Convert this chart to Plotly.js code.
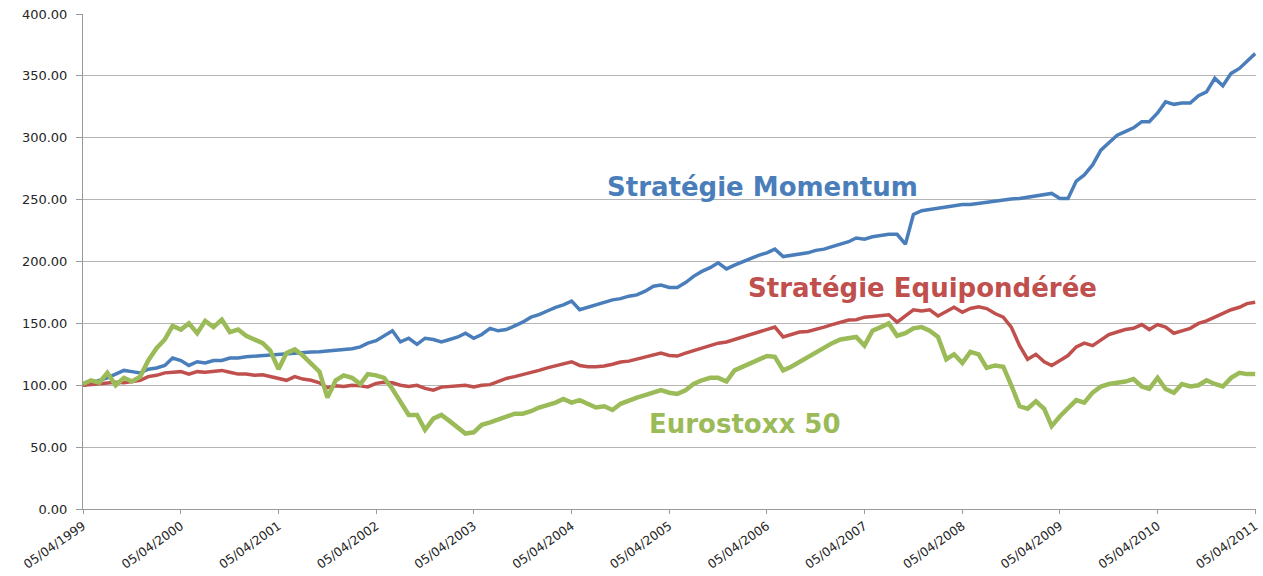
<!DOCTYPE html>
<html>
<head>
<meta charset="utf-8">
<script src="https://cdn.plot.ly/plotly-3.0.1.min.js"></script>
<style>html,body{margin:0;padding:0;background:#fff;}#chart{width:1263px;height:576px;}</style>
</head>
<body>
<div id="chart"></div>
<script>
// Monthly observation dates, 05/04/1999 -> 05/04/2011
const startYear = 1999, startMonth = 4, nMonths = 145;
const dates = [];
for (let i = 0; i < nMonths; i++) {
  const mm = startMonth - 1 + i;
  const y = startYear + Math.floor(mm / 12);
  const m = (mm % 12) + 1;
  dates.push(y + '-' + String(m).padStart(2, '0') + '-05');
}

const momentum = [
  100,102,104,106,109,112,111,110,113,114,116,122,
  120,116,119,118,120,120,122,122,123,123.5,124.4,124.5,
  125,125.5,126,126.5,126.8,127,127.5,128,128.5,129.5,131,134,
  136,140,144,135,138,133,138,137,135,137,139,142,
  138,141,146,144,145,148,151,155,157,160,163,165,
  168,161,163,165.6,167,169,170,172,173,176,180,181,
  179,179,183,188,192,195,199,194,197,200,203,205,
  207,210,204,205,206,207,209,210,212,214,216,219,
  218,220,221,222,222,214,238,241,242,243,244,245.5,
  246,246,247,248,249,250,250.5,251,252,253,254,255,
  251,251,265,270,278,290,296,302,305,308,313,313,
  320,329,327,328,328,334,337,348,342,352,356,362,
  368
];

const equipondere = [
  100,100.5,101,101.5,102.5,102,103,104,107,108,110,110.5,
  111,109,111,110.5,111,112,110.5,109,109,108,108.5,107,
  105,104,107,105,104,102,98,99.5,99,100,99.5,98.6,
  101.5,102.5,102,100,99,100,97.5,96,98.5,99,99.5,100,
  98.6,100,100.5,103,105.5,107,108.5,110.5,112,114,115.5,117,
  119,116,115,115,115.5,117,118.8,119.5,121,122.5,124.5,126,
  124,123.6,126,128,130,132,134,135,137,138.5,140.6,142.5,
  145,147,139,141,143,143.5,145,147,149,151,152.7,153,
  155,155.5,156,157,151,156,161,160,161,156,160,163,
  159,162,163.5,162,158,155,147,132,121,125,119,116,
  120,124,131,134,132,137,141,143,145,146,149,145,
  149,147,142,144,146,150,152,155,158,161,163,166,
  167
];

const eurostoxx = [
  101,104,102,110,100,106,103,107,120,130,137,148,
  145,150,142,152,147,153,143,145,140,137,134,128,
  113,126,129,124,118,111,90,104,108,106,101,109,
  108,106,97,86,76,76,64,73,76,71,66,61,
  62,68,70,72,75,77,77,79,82,84,86,89,
  86,88,85,82,83,80,85,88,90,92,94,96,
  94,93,96,101,104,106,106,103,112,115,118,121,
  123.6,123,112,115,119,123,127,130,134,137,138,139,
  132,144,147,150,140,142,146,147,144,139,121,125,
  118,127,125,114,116,115,100,83,81,87,81,67,
  75,82,88,86,94,99,101,102,103,105,99,97,
  106,97,94,101,99,100,104,101,99,106,110,109,
  109
];

const seriesNames = ['Stratégie Momentum', 'Stratégie Equipondérée', 'Eurostoxx 50'];
const seriesColors = ['#4A7EBB', '#C0504D', '#9BBB59'];

const tickYears = [1999,2000,2001,2002,2003,2004,2005,2006,2007,2008,2009,2010,2011];
const tickVals = tickYears.map(y => y + '-04-05');
const tickText = tickYears.map(y => '05/04/' + y);

const traces = [
  {x: dates, y: momentum, type: 'scatter', mode: 'lines', name: seriesNames[0],
   line: {color: seriesColors[0], width: 3.5}},
  {x: dates, y: equipondere, type: 'scatter', mode: 'lines', name: seriesNames[1],
   line: {color: seriesColors[1], width: 3.5}},
  {x: dates, y: eurostoxx, type: 'scatter', mode: 'lines', name: seriesNames[2],
   line: {color: seriesColors[2], width: 4.5}}
];

const labelFont = {family: 'DejaVu Sans', size: 26, weight: 'bold'};

const layout = {
  width: 1263, height: 576,
  margin: {l: 83, r: 7, t: 14, b: 67},
  paper_bgcolor: '#ffffff', plot_bgcolor: '#ffffff',
  showlegend: false,
  font: {family: 'DejaVu Sans', size: 13, color: '#262626'},
  xaxis: {
    type: 'date',
    range: ['1999-04-05', '2011-04-08'],
    tickvals: tickVals, ticktext: tickText, tickangle: -35,
    ticklabeloverflow: 'allow',
    showgrid: false, zeroline: false,
    showline: true, linecolor: '#9a9a9a', linewidth: 1,
    ticks: 'outside', ticklen: 4, tickcolor: '#9a9a9a',
    tickfont: {family: 'DejaVu Sans', size: 12.5, color: '#262626'},
    automargin: false
  },
  yaxis: {
    range: [0, 400], tick0: 0, dtick: 50, tickformat: '.2f',
    showgrid: true, gridcolor: '#b4b4b4', gridwidth: 1,
    zeroline: false,
    showline: true, linecolor: '#9a9a9a', linewidth: 1,
    ticks: 'outside', ticklen: 6, tickcolor: '#9a9a9a',
    ticklabelstandoff: 6,
    tickfont: {family: 'DejaVu Sans', size: 13, color: '#262626'},
    automargin: false
  },
  annotations: [
    {text: '<b>' + seriesNames[0] + '</b>', xref: 'paper', yref: 'paper', x: 0.579, y: 0.650,
     showarrow: false, xanchor: 'center', yanchor: 'middle',
     font: Object.assign({}, labelFont, {color: seriesColors[0]})},
    {text: '<b>' + seriesNames[1] + '</b>', xref: 'paper', yref: 'paper', x: 0.716, y: 0.446,
     showarrow: false, xanchor: 'center', yanchor: 'middle',
     font: Object.assign({}, labelFont, {color: seriesColors[1]})},
    {text: '<b>' + seriesNames[2] + '</b>', xref: 'paper', yref: 'paper', x: 0.564, y: 0.172,
     showarrow: false, xanchor: 'center', yanchor: 'middle',
     font: Object.assign({}, labelFont, {color: seriesColors[2]})}
  ]
};

Plotly.newPlot('chart', traces, layout, {displayModeBar: false, staticPlot: true});
</script>
</body>
</html>
